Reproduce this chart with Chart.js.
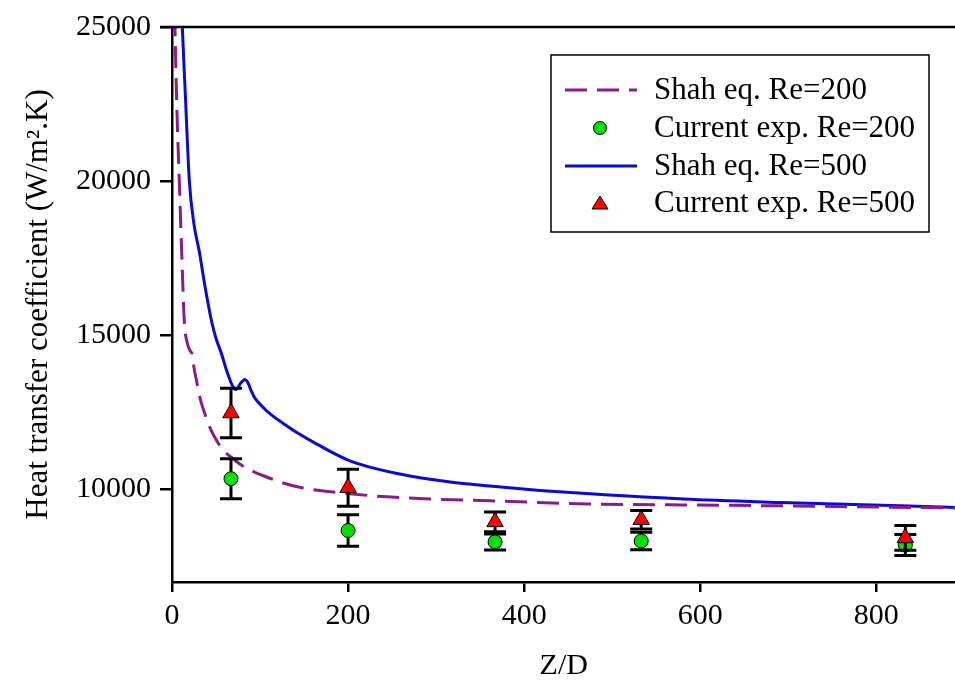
<!DOCTYPE html>
<html>
<head>
<meta charset="utf-8">
<script src="https://cdn.jsdelivr.net/npm/chart.js@4.4.1/dist/chart.umd.min.js"></script>
<style>
  html, body { margin: 0; padding: 0; background: #fff; overflow: hidden; }
  #wrap { width: 955px; height: 690px; overflow: hidden; }
  #inner { width: 1000px; height: 690px; }
  canvas { display: block; }
</style>
</head>
<body>
<div id="wrap"><div id="inner"><canvas id="chart" width="955" height="690"></canvas></div></div>
<script>
// Shah eq. curves
const shah200X = [2, 3.4, 5.5, 8.3, 11, 14, 17.4, 20, 23, 25, 28, 32, 37.5, 44, 51, 58, 68, 77, 87, 97, 109, 125, 145, 170, 202, 240, 293, 361, 475, 580, 691, 805, 890];
const shah200Y = [27500, 25000, 22400, 20000, 17720, 15450, 14750, 14530, 14370, 13950, 13510, 12950, 12440, 11950, 11570, 11280, 11030, 10830, 10660, 10520, 10390, 10220, 10070, 9960, 9860, 9770, 9690, 9635, 9530, 9500, 9470, 9430, 9400];
const shah500X = [10, 11.7, 15, 19.7, 25, 31, 38, 45, 50, 56.5, 61, 65, 68, 71.6, 74, 78, 83, 86, 90, 94, 105, 117, 126, 140, 164, 202, 259, 316, 361, 418, 475, 581, 691, 827, 890];
const shah500Y = [26500, 25000, 22900, 20000, 18600, 17720, 16500, 15450, 14900, 14380, 13950, 13620, 13400, 13245, 13270, 13450, 13570, 13480, 13200, 12970, 12620, 12330, 12150, 11880, 11480, 10930, 10500, 10240, 10110, 9970, 9860, 9690, 9580, 9470, 9420];

// current experiments
const expX = [67, 200, 367, 533, 833];
const exp200 = [10350, 8670, 8300, 8330, 8200];
const exp200Err = [650, 510, 260, 280, 340];
const exp500 = [12480, 10060, 8950, 9020, 8430];
const exp500Err = [800, 600, 320, 300, 400];

const xTicks = [0, 200, 400, 600, 800];
const yTicks = [10000, 15000, 20000, 25000];

const pts = (xs, ys) => xs.map((x, i) => ({ x, y: ys[i] }));

Chart.defaults.font.family = "'Liberation Serif', 'Times New Roman', serif";
Chart.defaults.color = "#000";

// vertical error bars with caps, drawn just under each scatter set
const errorBars = {
  id: "errorBars",
  beforeDatasetDraw(chart, args) {
    const ds = chart.data.datasets[args.index];
    if (!ds.errors) return;
    const { ctx, scales: { x, y } } = chart;
    ctx.save();
    ctx.strokeStyle = "#000";
    ctx.lineWidth = 3;
    ds.data.forEach((p, i) => {
      const px = x.getPixelForValue(p.x);
      const top = y.getPixelForValue(p.y + ds.errors[i]);
      const bot = y.getPixelForValue(p.y - ds.errors[i]);
      ctx.beginPath();
      ctx.moveTo(px, top); ctx.lineTo(px, bot);
      ctx.moveTo(px - 11, top); ctx.lineTo(px + 11, top);
      ctx.moveTo(px - 11, bot); ctx.lineTo(px + 11, bot);
      ctx.stroke();
    });
    ctx.restore();
  }
};

// top frame line + boxed legend inside the plot
const frameLegend = {
  id: "frameLegend",
  afterDraw(chart) {
    const { ctx, chartArea: a } = chart;
    ctx.save();
    ctx.strokeStyle = "#000";
    ctx.lineWidth = 2.5;
    ctx.beginPath();
    ctx.moveTo(a.left - 12, a.top);
    ctx.lineTo(a.right, a.top);
    ctx.stroke();

    const bx = 551, by = 55, bw = 378, bh = 177;
    ctx.fillStyle = "#fff";
    ctx.fillRect(bx, by, bw, bh);
    ctx.lineWidth = 1.5;
    ctx.strokeRect(bx, by, bw, bh);

    const rows = [90, 128, 166, 203];
    ctx.font = "31px 'Liberation Serif'";
    ctx.textBaseline = "middle";
    chart.data.datasets.forEach((ds, i) => {
      const yy = rows[i];
      if (ds.showLine) {
        ctx.strokeStyle = ds.borderColor;
        ctx.lineWidth = ds.borderWidth;
        ctx.setLineDash(ds.borderDash || []);
        ctx.beginPath();
        ctx.moveTo(565, yy); ctx.lineTo(637, yy);
        ctx.stroke();
        ctx.setLineDash([]);
      } else {
        ctx.fillStyle = ds.backgroundColor;
        ctx.strokeStyle = "#000";
        ctx.lineWidth = 1;
        ctx.beginPath();
        if (ds.pointStyle === "triangle") {
          ctx.moveTo(600, yy - 7); ctx.lineTo(608, yy + 6); ctx.lineTo(592, yy + 6); ctx.closePath();
        } else {
          ctx.arc(600, yy, 6.5, 0, Math.PI * 2);
        }
        ctx.fill(); ctx.stroke();
      }
      ctx.fillStyle = "#000";
      ctx.fillText(ds.label, 654, yy + 1);
    });
    ctx.restore();
  }
};

const chart = new Chart(document.getElementById("chart"), {
  type: "scatter",
  data: {
    datasets: [
      { label: "Shah eq. Re=200", data: pts(shah200X, shah200Y), showLine: true, pointRadius: 0,
        borderColor: "#8b1a8b", borderWidth: 3, borderDash: [22, 10], cubicInterpolationMode: "monotone", order: 3 },
      { label: "Current exp. Re=200", data: pts(expX, exp200), errors: exp200Err, pointStyle: "circle",
        pointRadius: 7, backgroundColor: "#00e000", borderColor: "#000", borderWidth: 1, order: 1 },
      { label: "Shah eq. Re=500", data: pts(shah500X, shah500Y), showLine: true, pointRadius: 0,
        borderColor: "#0a0ad2", borderWidth: 3, cubicInterpolationMode: "monotone", order: 3 },
      { label: "Current exp. Re=500", data: pts(expX, exp500), errors: exp500Err, pointStyle: "triangle",
        pointRadius: 9.5, backgroundColor: "#ff0000", borderColor: "#000", borderWidth: 1, order: 0 }
    ]
  },
  options: {
    responsive: false,
    maintainAspectRatio: false,
    animation: false,
    layout: { padding: { top: 25, right: 0, left: 0, bottom: 0 } },
    plugins: { legend: { display: false }, tooltip: { enabled: false } },
    scales: {
      x: {
        type: "linear", min: 0, max: 890,
        afterBuildTicks: s => { s.ticks = xTicks.map(v => ({ value: v })); },
        afterFit: s => { s.height = 108; },
        grid: { drawOnChartArea: false, drawTicks: true, tickLength: 10, color: "#000", lineWidth: 2.5 },
        border: { display: true, color: "#000", width: 2.5 },
        ticks: { font: { size: 30 }, padding: 6, maxRotation: 0 },
        title: { display: true, text: "Z/D", font: { size: 30 }, padding: { top: 0, bottom: 6 } }
      },
      y: {
        type: "linear", min: 7000, max: 25000,
        afterBuildTicks: s => { s.ticks = yTicks.map(v => ({ value: v })); },
        afterFit: s => { s.width = 172; },
        grid: { drawOnChartArea: false, drawTicks: true, tickLength: 12, color: "#000", lineWidth: 2.5 },
        border: { display: true, color: "#000", width: 2.5 },
        ticks: { font: { size: 30 }, padding: 9, callback: v => String(v) },
        title: { display: true, text: "Heat transfer coefficient (W/m\u00b2.K)", font: { size: 31 }, padding: { top: 20, bottom: 0 } }
      }
    }
  },
  plugins: [errorBars, frameLegend]
});

// the original plot runs past the right edge of the picture: widen the canvas
// so the plot area ends exactly at the visible edge (wrap clips the rest)
const extra = Math.round(955 - chart.chartArea.right);
if (extra > 0) chart.resize(955 + extra, 690);
</script>
</body>
</html>
